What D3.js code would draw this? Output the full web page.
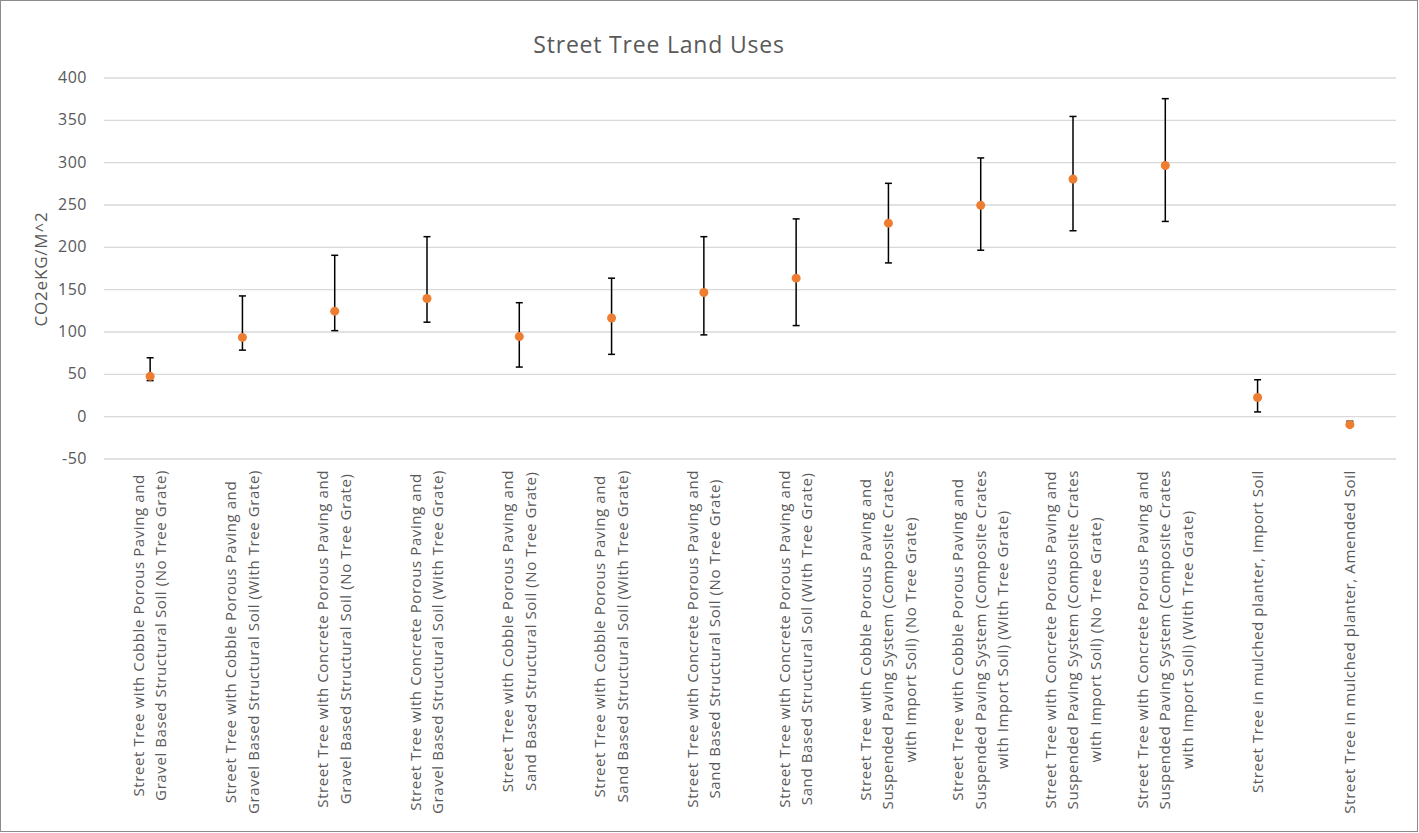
<!DOCTYPE html>
<html>
<head>
<meta charset="utf-8">
<script src="https://cdn.jsdelivr.net/npm/d3@7"></script>
<style>
  body { margin: 0; background: #fff; }
  text { font-family: "Open Sans", "Noto Sans", sans-serif; }
</style>
</head>
<body>
<div id="chart"></div>
<script>
// categories, one label per point (lines split with |)
var categories = [
  "Street Tree with Cobble Porous Paving and|Gravel Based Structural Soil (No Tree Grate)",
  "Street Tree with Cobble Porous Paving and|Gravel Based Structural Soil (With Tree Grate)",
  "Street Tree with Concrete Porous Paving and|Gravel Based Structural Soil (No Tree Grate)",
  "Street Tree with Concrete Porous Paving and|Gravel Based Structural Soil (With Tree Grate)",
  "Street Tree with Cobble Porous Paving and|Sand Based Structural Soil (No Tree Grate)",
  "Street Tree with Cobble Porous Paving and|Sand Based Structural Soil (With Tree Grate)",
  "Street Tree with Concrete Porous Paving and|Sand Based Structural Soil (No Tree Grate)",
  "Street Tree with Concrete Porous Paving and|Sand Based Structural Soil (With Tree Grate)",
  "Street Tree with Cobble Porous Paving and|Suspended Paving System (Composite Crates|with Import Soil) (No Tree Grate)",
  "Street Tree with Cobble Porous Paving and|Suspended Paving System (Composite Crates|with Import Soil) (With Tree Grate)",
  "Street Tree with Concrete Porous Paving and|Suspended Paving System (Composite Crates|with Import Soil) (No Tree Grate)",
  "Street Tree with Concrete Porous Paving and|Suspended Paving System (Composite Crates|with Import Soil) (With Tree Grate)",
  "Street Tree in mulched planter, Import Soil",
  "Street Tree in mulched planter, Amended Soil"
];
var values = [47, 93, 124, 139, 94, 116, 146, 163, 228, 249, 280, 296, 22, -10];
var highs  = [69, 142, 190, 212, 134, 163, 212, 233, 275, 305, 354, 375, 43, -6];
var lows   = [42, 78, 101, 111, 58, 73, 96, 107, 181, 196, 219, 230, 5, -11];
var yTicks = [-50, 0, 50, 100, 150, 200, 250, 300, 350, 400];

var W = 1419, H = 833;
var plotLeft = 104, plotRight = 1396, plotTop = 77.5, plotBottom = 458.5;

var svg = d3.select("#chart").append("svg")
    .attr("width", W)
    .attr("height", H);

svg.append("rect")
    .attr("x", 0.5).attr("y", 0.5)
    .attr("width", W - 2).attr("height", H - 2)
    .attr("fill", "#fff")
    .attr("stroke", "#8c8c8c");

var x = d3.scaleBand()
    .domain(d3.range(categories.length))
    .range([plotLeft, plotRight]);
var y = d3.scaleLinear()
    .domain([-50, 400])
    .range([plotBottom, plotTop]);

// gridlines + tick labels
var yAxis = svg.append("g")
    .attr("transform", "translate(" + plotLeft + ",0)")
    .call(d3.axisLeft(y).tickValues(yTicks).tickFormat(String)
      .tickSize(-(plotRight - plotLeft)).tickPadding(17));
yAxis.select(".domain").remove();
yAxis.selectAll(".tick line").attr("stroke", "#d9d9d9").attr("stroke-width", 1.3);
yAxis.selectAll(".tick text")
    .attr("fill", "#595959")
    .style("font-size", "16px")
    .style("letter-spacing", "0.5px");

// title
svg.append("text")
    .attr("x", 659).attr("y", 53)
    .attr("text-anchor", "middle")
    .attr("fill", "#595959")
    .style("font-size", "23px")
    .style("letter-spacing", "0.8px")
    .text("Street Tree Land Uses");

// y axis label
svg.append("text")
    .attr("transform", "translate(47,269) rotate(-90)")
    .attr("text-anchor", "middle")
    .attr("fill", "#595959")
    .style("font-size", "17px")
    .style("letter-spacing", "0.8px")
    .text("CO2eKG/M^2");

// error bars
var cx = function(i) { return x(i) + x.bandwidth() / 2; };
var bars = svg.append("g");
values.forEach(function(v, i) {
  var g = bars.append("g").attr("stroke", "#000").attr("stroke-width", 1.5);
  g.append("line").attr("x1", cx(i)).attr("x2", cx(i)).attr("y1", y(highs[i])).attr("y2", y(lows[i]));
  g.append("line").attr("x1", cx(i) - 3.5).attr("x2", cx(i) + 3.5).attr("y1", y(highs[i])).attr("y2", y(highs[i]));
  g.append("line").attr("x1", cx(i) - 3.5).attr("x2", cx(i) + 3.5).attr("y1", y(lows[i])).attr("y2", y(lows[i]));
});

// points
svg.append("g").selectAll("circle")
    .data(values)
    .enter().append("circle")
    .attr("cx", function(d, i) { return cx(i); })
    .attr("cy", function(d) { return y(d); })
    .attr("r", 4.5)
    .attr("fill", "#ED7D31");

// category labels, rotated, lines centred, block top at axis
var lineH = 22.5, labelTop = 470;
categories.forEach(function(c, i) {
  var lines = c.split("|");
  var g = svg.append("g");
  var texts = lines.map(function(l) {
    return g.append("text")
      .attr("fill", "#595959")
      .attr("text-anchor", "middle")
      .style("font-size", "15px")
      .style("letter-spacing", "0.6px")
      .text(l);
  });
  var maxLen = d3.max(texts, function(t) { return t.node().getComputedTextLength(); });
  texts.forEach(function(t, j) {
    var off = (j - (lines.length - 1) / 2) * lineH;
    t.attr("transform", "translate(" + (cx(i) + off + 5) + "," + (labelTop + maxLen / 2) + ") rotate(-90)");
  });
});
</script>
</body>
</html>
